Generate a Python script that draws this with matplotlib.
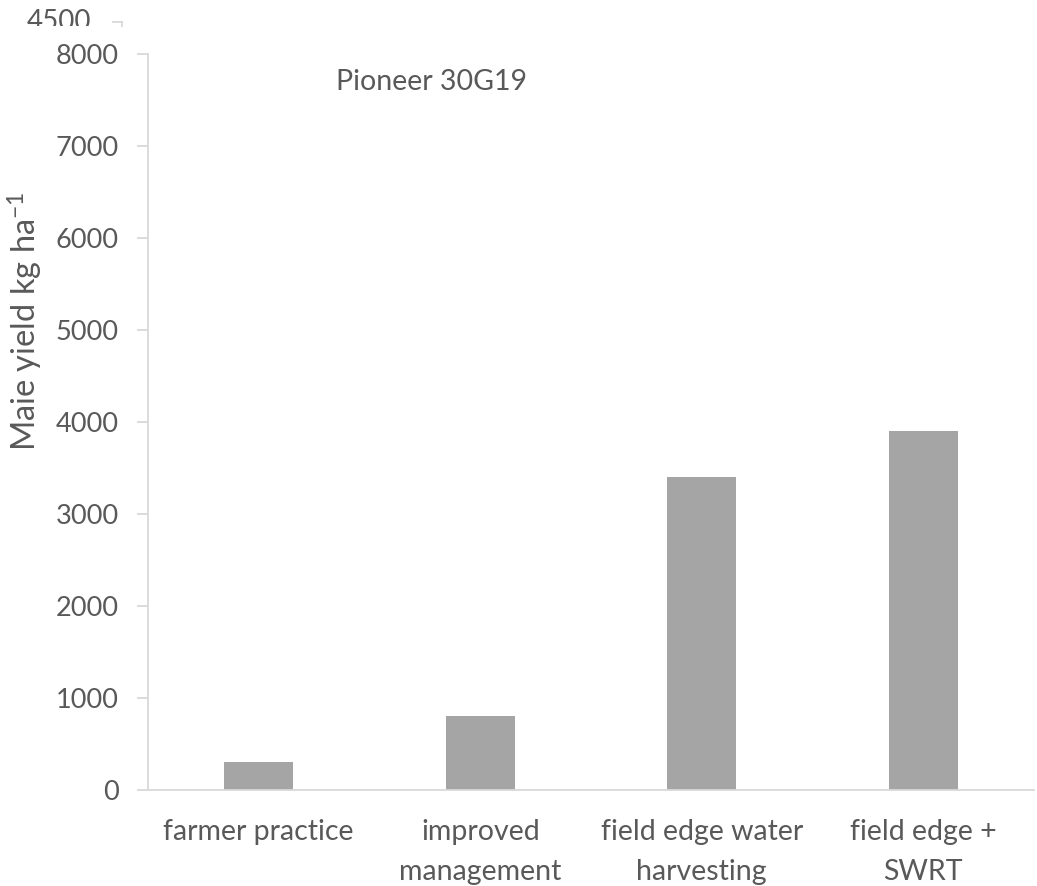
import matplotlib
matplotlib.use("Agg")
import matplotlib.pyplot as plt
from matplotlib.lines import Line2D
from matplotlib.transforms import Bbox, TransformedBbox

# Maize yield by management practice
categories = ["farmer practice", "improved\nmanagement",
              "field edge water\nharvesting", "field edge +\nSWRT"]
yields = [300, 800, 3400, 3900]
y_ticks = [0, 1000, 2000, 3000, 4000, 5000, 6000, 7000, 8000]

TEXT = "#595959"
AXIS = "#d9d9d9"
BAR = "#a5a5a5"

plt.rcParams["font.family"] = ["Lato", "DejaVu Sans"]
plt.rcParams["mathtext.fontset"] = "custom"
plt.rcParams["mathtext.rm"] = "Lato"
plt.rcParams["mathtext.it"] = "Lato"

fig = plt.figure(figsize=(10.37, 8.86), dpi=100)
ax = fig.add_axes([0.1427, 0.1084, 0.8545, 0.8306])

x = range(len(categories))
ax.bar(x, yields, width=0.31, color=BAR)

ax.set_xlim(-0.5, len(categories) - 0.5)
ax.set_ylim(0, 8000)
ax.set_yticks(y_ticks)
ax.set_yticklabels([str(v) for v in y_ticks])
ax.set_xticks(list(x))
ax.set_xticklabels(categories, linespacing=1.65)

for s in ("top", "right"):
    ax.spines[s].set_visible(False)
for s in ("left", "bottom"):
    ax.spines[s].set_color(AXIS)
    ax.spines[s].set_linewidth(1.3)

ax.tick_params(axis="y", direction="out", length=8, width=1.3, color=AXIS,
               labelcolor=TEXT, labelsize=19.5, pad=13)
ax.tick_params(axis="x", length=0, labelcolor=TEXT, labelsize=20.5, pad=21)

ax.set_ylabel(r"Maie yield kg ha$^{-1}$", color=TEXT, fontsize=23.5)
ax.yaxis.set_label_coords(-0.116, 0.637)

ax.text(0.32, 0.962, "Pioneer 30G19", transform=ax.transAxes, ha="center",
        va="center", color=TEXT, fontsize=20.5)

# leftover label and tick of a secondary scale, cut off at the top edge
clip = TransformedBbox(Bbox([[0.0, 0.9707], [1.0, 1.0]]), fig.transFigure)
corner = fig.text(0.057, 0.966, "4500", color=TEXT, fontsize=20,
                  ha="center", va="baseline")
corner.set_clip_box(clip)
corner.set_clip_on(True)
fig.add_artist(Line2D([0.109, 0.118], [0.9752, 0.9752], color=AXIS, lw=1.3))
fig.add_artist(Line2D([0.118, 0.118], [0.9752, 0.9707], color=AXIS, lw=1.3))

fig.savefig("out.png", dpi=100)
